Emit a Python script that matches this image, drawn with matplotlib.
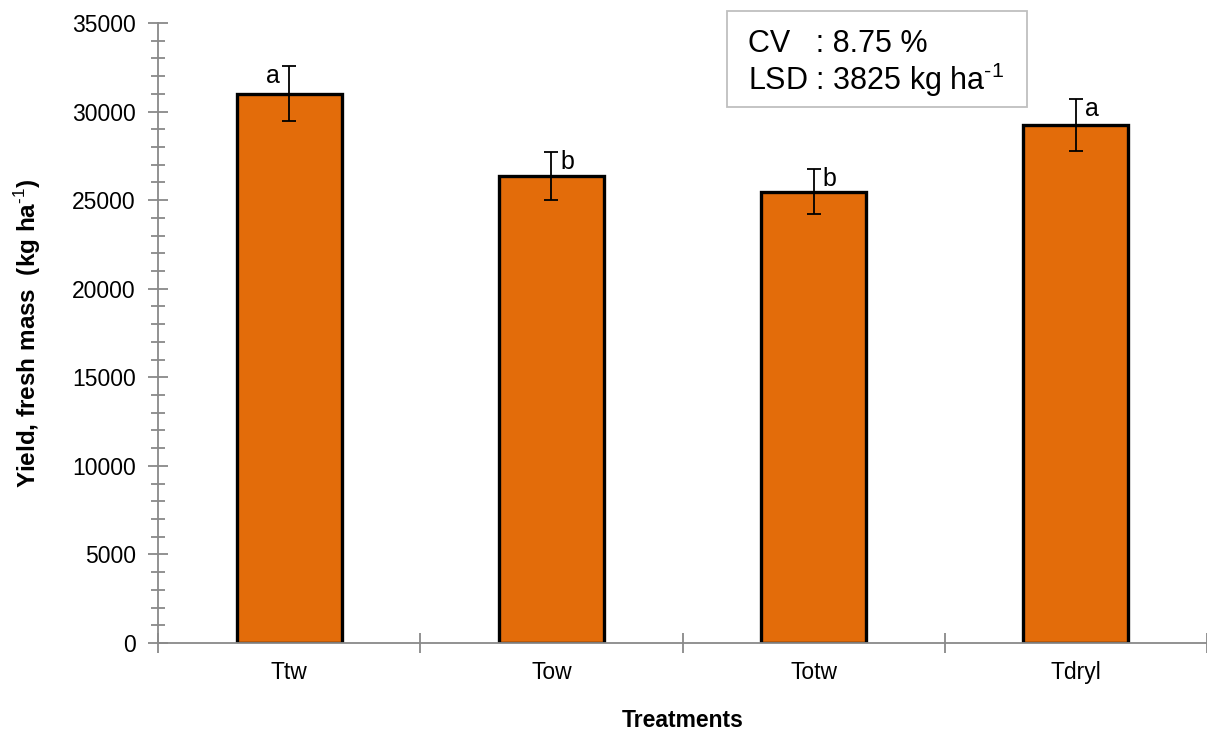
import matplotlib
matplotlib.use('Agg')
import matplotlib.pyplot as plt
from matplotlib.patches import Rectangle
from matplotlib.ticker import MultipleLocator

plt.rcParams['font.family'] = ['Liberation Sans', 'DejaVu Sans']
plt.rcParams['mathtext.fontset'] = 'custom'
plt.rcParams['mathtext.rm'] = 'Liberation Sans'
plt.rcParams['mathtext.bf'] = 'Liberation Sans:bold'

# data
treatments = ['Ttw', 'Tow', 'Totw', 'Tdryl']
yields = [31000, 26370, 25460, 29250]
errors = [1550, 1350, 1270, 1470]
letters = ['a', 'b', 'b', 'a']
letter_side = [-1, 1, 1, 1]

W, H = 1207, 733
fig = plt.figure(figsize=(W / 100, H / 100), dpi=100)
ax = fig.add_axes([158 / W, 1 - 643 / H, 1049 / W, 620 / H])

x = range(len(treatments))
ax.bar(x, yields, width=0.4, color='#E36C0A', edgecolor='black', linewidth=2.4, zorder=2)
ax.errorbar(x, yields, yerr=errors, fmt='none', ecolor='black', elinewidth=1.3,
            capsize=5, capthick=1.3, zorder=3)

# significance letters
for i in x:
    ax.text(i + letter_side[i] * 0.06, yields[i] + errors[i] + 120, letters[i],
            ha='center', va='top', fontsize=18)

ax.set_xlim(-0.5, 3.5)
ax.set_ylim(0, 35000)
ax.set_xticks(list(x))
ax.set_xticklabels(treatments, fontsize=16.5)
ax.set_xticks([-0.5, 0.5, 1.5, 2.5, 3.5], minor=True)
ax.yaxis.set_major_locator(MultipleLocator(5000))
ax.yaxis.set_minor_locator(MultipleLocator(1000))
ax.tick_params(axis='y', which='major', direction='inout', length=14, color='#898989',
               labelsize=16.5, width=1.3, pad=9)
ax.tick_params(axis='y', which='minor', direction='inout', length=10, color='#898989', width=1.3)
ax.tick_params(axis='x', which='major', length=0, labelsize=16.5, pad=13)
ax.tick_params(axis='x', which='minor', direction='inout', length=14, color='#898989', width=1.3)

for s in ['top', 'right']:
    ax.spines[s].set_visible(False)
for s in ['left', 'bottom']:
    ax.spines[s].set_color('#898989')
    ax.spines[s].set_linewidth(1.3)

ax.set_ylabel('Yield, fresh mass  (kg ha$^{\\mathbf{\\text{-1}}}$)', fontsize=17.5,
              fontweight='bold', labelpad=21)
ax.set_xlabel('Treatments', fontsize=16.5, fontweight='bold', labelpad=18)

# CV / LSD box
fig.patches.append(Rectangle((727 / W, 1 - 107 / H), 300 / W, 96 / H, transform=fig.transFigure,
                             facecolor='white', edgecolor='#BFBFBF', linewidth=1.3))
fig.text(748 / W, 1 - 44 / H, 'CV   : 8.75 %', fontsize=22, va='center', ha='left')
fig.text(748 / W, 1 - 80 / H, 'LSD : 3825 kg ha$^{\\text{-1}}$', fontsize=22, va='center', ha='left')

fig.savefig('out.png', dpi=100)
